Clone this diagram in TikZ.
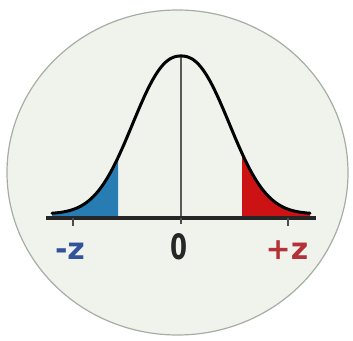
\documentclass[tikz,border=0pt]{standalone}
\usepackage{fontspec}
\setsansfont{DejaVu Sans}
\usetikzlibrary{positioning}
\definecolor{discbg}   {RGB}{240, 243, 236}
\definecolor{discrim}  {RGB}{165, 174, 165}
\definecolor{tailblue} {RGB}{40,  124, 180}
\definecolor{tailred}  {RGB}{204, 18,  18}
\definecolor{labelblue}{RGB}{52,  82,  155}
\definecolor{labelred} {RGB}{180, 50,  55}
\tikzset{
  bellcurve/.style={
    line width=3pt, black, line join=round, line cap=round
  },
  axisline/.style={
    line width=3.2pt, black!85
  },
  meanline/.style={
    line width=1.6pt, black!65
  },
  tickmark/.style={
    line width=2pt, black!70
  },
  zlabel/.style={
    font=\sffamily\bfseries\fontsize{30}{30}\selectfont,
    inner sep=0pt, anchor=base
  },
}

\begin{document}
\begin{tikzpicture}[x=1pt, y=-1pt,
    declare function={bell(\x)=214-158*exp(-pow((abs(\x-181)+0.01)/62.2,2.3));}]
  \useasboundingbox (0,0) rectangle (353,340);

  % Disc
  \draw[fill=discbg, draw=discrim, line width=1.2pt]
    (177.5,172.5) ellipse [x radius=170.5pt, y radius=162.5pt];

  % Axis points
  \coordinate (axl) at (46,218);
  \coordinate (axr) at (316,218);
  \coordinate (mid) at (181,218);
  \coordinate (peak) at (181,{bell(181)});

  % Shaded tails
  \fill[tailblue] (52,217) -- plot[domain=52:118, samples=50] (\x,{bell(\x)})
        -- (118,217) -- cycle;
  \fill[tailred] (242,217) -- plot[domain=242:310, samples=50] (\x,{bell(\x)})
        -- (310,217) -- cycle;

  % Mean line
  \draw[meanline] (mid) -- (peak);

  % Curve
  \draw[bellcurve] plot[domain=52:310, samples=150] (\x,{bell(\x)});

  % Axis and ticks
  \draw[axisline] (axl) -- (axr);
  \draw[tickmark] (73,218) -- (73,226);
  \draw[tickmark] (mid) -- ++(0,6);
  \draw[tickmark] (288,218) -- (288,226);

  % Labels
  \node[zlabel, labelblue] (zneg) at (70,259) {-z};
  \node[zlabel, black!85, font=\sffamily\bfseries\fontsize{35}{35}\selectfont,
        xscale=0.7] (zero) at (179,259) {0};
  \node[zlabel, labelred] (zpos) at (287,259) {+z};
\end{tikzpicture}
\end{document}
